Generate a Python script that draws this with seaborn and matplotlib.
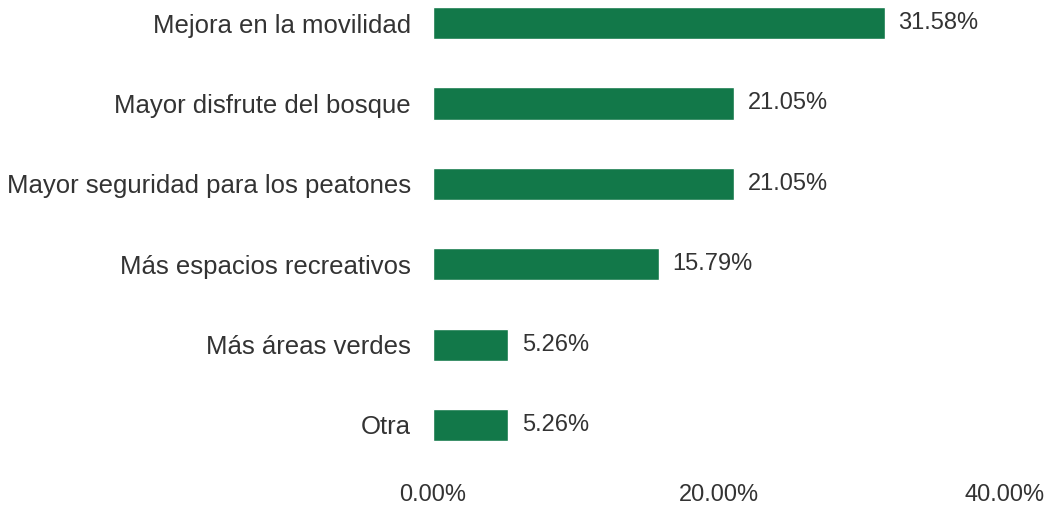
import matplotlib
matplotlib.use("Agg")
import matplotlib.pyplot as plt
import pandas as pd
import seaborn as sns

categories = [
    "Mejora en la movilidad",
    "Mayor disfrute del bosque",
    "Mayor seguridad para los peatones",
    "Más espacios recreativos",
    "Más áreas verdes",
    "Otra",
]
values = [31.58, 21.05, 21.05, 15.79, 5.26, 5.26]
xticks = [0, 20, 40]

df = pd.DataFrame({"categoria": categories, "pct": values})

sns.set_theme(style="white")
plt.rcParams["font.family"] = ["Liberation Sans", "DejaVu Sans"]

fig = plt.figure(figsize=(10.55, 5.08), dpi=100)
fig.patch.set_facecolor("white")
ax = fig.add_axes([433 / 1055, 38 / 508, (1005 - 433) / 1055, 467 / 508])

sns.barplot(data=df, x="pct", y="categoria", color="#127849", width=0.4,
            saturation=1, ax=ax)

# value labels after each bar
ax.bar_label(ax.containers[0], labels=[f"{v:.2f}%" for v in values],
             padding=10, fontsize=17, color="#333333")

ax.set_xlim(0, 40)
ax.set_ylim(5.56, -0.25)
ax.set_xticks(xticks)
ax.set_xticklabels([f"{t:.2f}%" for t in xticks])
ax.set_xlabel("")
ax.set_ylabel("")
ax.tick_params(axis="x", length=0, labelsize=17, colors="#333333", pad=10)
ax.tick_params(axis="y", length=0, labelsize=18.5, colors="#333333", pad=16)
for s in ax.spines.values():
    s.set_visible(False)

plt.savefig("out.png", dpi=100, facecolor="white")
plt.close()
